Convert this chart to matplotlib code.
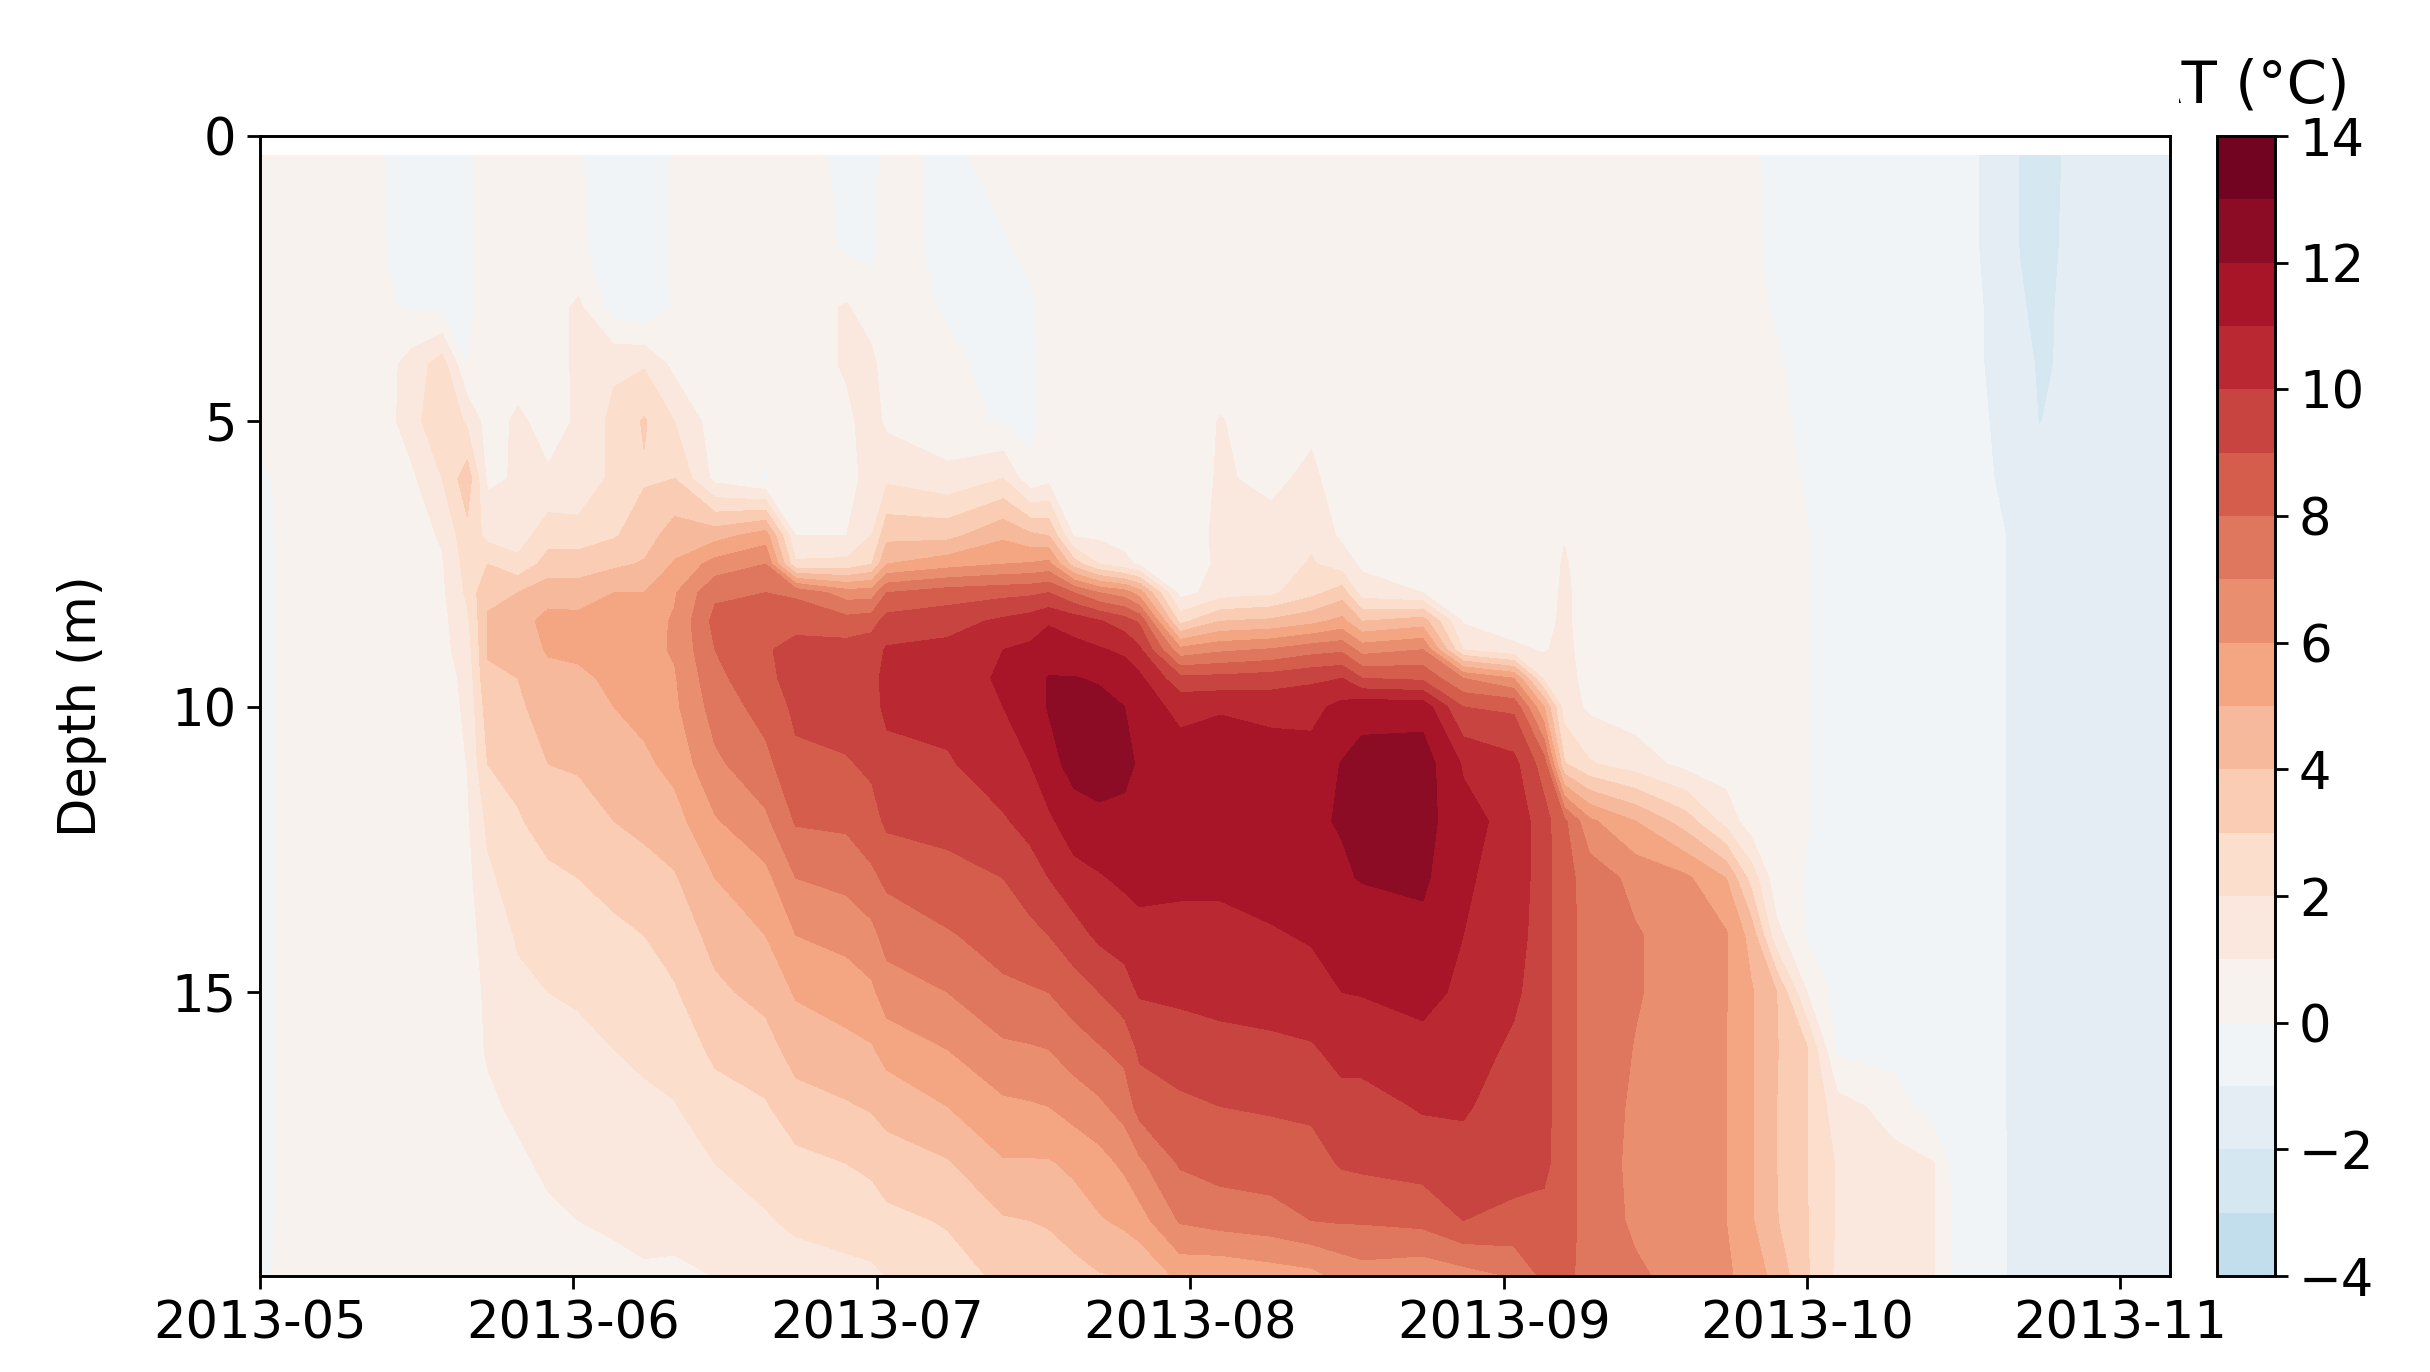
import numpy as np
import matplotlib
matplotlib.use("Agg")
import matplotlib.pyplot as plt
import matplotlib.dates as mdates
from matplotlib.transforms import Bbox

START = "2013-05-01"
FIG_W, FIG_H = 2430, 1372
DPI = 200

depths = [0.35, 2, 3, 4, 5, 6, 7, 7.5, 8, 8.5, 9, 9.5, 10, 11, 12, 13, 14, 15, 16, 17, 18, 19, 20]

# days since START, one temperature profile per entry (same order as depths)
days = [0, 4, 12, 15, 18, 20.5, 22.5, 25.5, 28.5, 31.5, 35, 38, 41, 45, 50, 53, 58, 60.5, 62, 68, 73.5, 76.2, 78, 80.5, 83,
        85.5, 87, 91, 95, 100, 104, 107, 109, 115, 119, 124, 127, 129, 131.5, 136, 141, 145, 147.5, 150, 153, 156,
        161.5, 165.5, 167.5, 170, 173, 174, 176, 178.3, 181, 188.9]

temp_profiles = [
    [.5, .5, .5, .5, .3, -.2, -.3, -.3, -.3, -.3, -.3, -.3, -.3, -.3, -.3, -.3, -.3, -.3, -.3, -.3, -.3, -.3, -.2],
    [.5, .5, .5, .5, .5, .5, .5, .5, .5, .5, .5, .5, .5, .5, .5, .5, .5, .5, .5, .5, .5, .5, .5],
    [.05, .05, .1, .5, .5, .5, .5, .5, .5, .5, .5, .5, .5, .5, .5, .5, .5, .5, .5, .5, .5, .5, .5],
    [-.4, -.3, -.1, 1.4, 1.5, .8, .6, .6, .5, .5, .5, .5, .5, .5, .5, .5, .5, .5, .5, .5, .5, .5, .5],
    [-.4, -.4, -.3, 2.5, 3, 2, 1.1, .9, .8, .7, .7, .6, .6, .5, .5, .5, .5, .5, .5, .5, .5, .5, .5],
    [-.3, -.3, -.3, 0, 1.8, 3.6, 2.7, 2.4, 2.2, 1.8, 1.5, 1.25, 1.15, 1.02, .85, .7, .6, .5, .5, .5, .5, .5, .5],
    [.5, .5, .5, .5, .6, .8, 1.7, 3, 3.9, 4.05, 4.05, 3.9, 3.5, 3, 2.2, 1.8, 1.4, 1.2, 1.1, .8, .6, .5, .5],
    [.5, .5, .5, .6, 1.15, 1.1, 1.5, 2.3, 4, 4.6, 4.4, 4, 3.8, 3.3, 2.9, 2.5, 2.1, 1.8, 1.5, 1.2, .8, .6, .5],
    [.5, .5, .5, .5, .7, 1.1, 2.6, 3.4, 4.6, 5.3, 5.1, 4.7, 4.5, 4, 3.4, 2.8, 2.4, 2, 1.7, 1.5, 1.2, .8, .6],
    [.05, .1, 1.2, 1.2, 1.1, 1.1, 2.5, 3.5, 4.5, 5.3, 5.2, 4.8, 4.6, 4.1, 3.6, 3, 2.6, 2.1, 1.8, 1.5, 1.3, 1, .7],
    [-.3, -.3, -.5, 1.8, 2.3, 2.3, 2.9, 3.8, 5, 5.5, 5.5, 5.2, 5, 4.5, 4, 3.3, 2.8, 2.4, 2, 1.7, 1.4, 1.1, .8],
    [-.3, -.3, -.8, 1.9, 3.1, 2.9, 3.5, 4.1, 5, 5.6, 5.7, 5.6, 5.3, 4.8, 4.2, 3.7, 3, 2.6, 2.2, 1.8, 1.5, 1.2, .9],
    [.05, .05, .1, .7, 2, 3, 4.5, 5.1, 5.9, 6.1, 6.1, 5.9, 5.8, 5.3, 4.6, 3.9, 3.4, 2.9, 2.4, 1.95, 1.6, 1.3, .8],
    [.4, .4, .4, .4, .5, .7, 4.6, 6.4, 7.8, 8.3, 8, 7.7, 7.4, 6.8, 5.9, 5, 4.3, 3.8, 3.2, 2.6, 2, 1.5, 1],
    [.5, .5, .5, .5, .3, -.1, 5.5, 7, 8, 8.8, 8.9, 8.8, 8.4, 7.7, 6.8, 5.7, 5, 4.3, 3.6, 2.9, 2.4, 1.9, 1.2],
    [.5, .5, .5, .5, .5, .5, 1, 2.2, 7.8, 8.7, 9.3, 9.3, 9.2, 8.8, 8.1, 7, 6, 5.1, 4.4, 3.6, 2.7, 2.2, 1.5],
    [-.3, -.1, 1.1, 1.1, .8, .6, 1, 2.3, 6.5, 8.4, 9.4, 9.6, 9.5, 8.9, 8.2, 7.3, 6.3, 5.5, 4.7, 3.9, 3, 2.4, 1.7],
    [-.3, -.2, .4, 1.3, 1.4, 1.4, 2, 3, 6.5, 8.6, 9.6, 9.8, 9.7, 9.2, 8.6, 7.8, 6.7, 5.8, 4.9, 4.1, 3.2, 2.5, 1.8],
    [.3, .3, .4, .3, .8, 1.8, 3.7, 5, 8, 9.4, 10.1, 10.2, 10.2, 9.7, 9.2, 8.2, 7.4, 6.5, 5.4, 4.3, 3.6, 2.7, 2],
    [-.2, -.2, -.1, .2, .3, 1.3, 3.7, 5.6, 8.5, 9.6, 10.3, 10.3, 10.3, 9.9, 9.3, 8.7, 7.9, 7, 6, 5, 3.9, 3.1, 2.5],
    [.3, -.1, -.3, -.3, -.1, 2, 4.8, 6, 8.7, 10.2, 11, 11.2, 11, 10.5, 9.9, 9, 8.4, 7.8, 6.8, 5.8, 4.9, 3.9, 3.2],
    [.4, .2, -.2, -.3, -.3, .3, 4.2, 6.1, 8.8, 10.5, 11.2, 11.6, 11.6, 11, 10.3, 9.6, 8.7, 7.9, 6.9, 5.9, 4.9, 4, 3.3],
    [.5, .4, .4, .5, .5, .7, 4, 6.3, 9, 10.9, 11.5, 12.05, 12.05, 11.7, 10.8, 10, 9, 8, 7, 6, 4.9, 4.1, 3.4],
    [.5, .5, .5, .5, .5, .5, .9, 3.5, 8, 10.6, 11.3, 12.05, 12.5, 12.3, 11.6, 10.6, 9.6, 8.5, 7.5, 6.4, 5.2, 4.5, 3.6],
    [.5, .5, .5, .5, .5, .5, .8, 2, 7, 10.1, 11.1, 11.9, 12.3, 12.4, 11.8, 10.9, 10.2, 9, 7.9, 6.8, 5.6, 4.9, 3.9],
    [.5, .5, .5, .5, .5, .5, .6, 1.3, 6.5, 9.5, 10.8, 11.6, 12, 12.2, 11.8, 11.2, 10.4, 9.6, 8.3, 7.4, 6.2, 5.2, 4],
    [.5, .5, .5, .5, .5, .5, .5, .8, 5.5, 8.8, 10.2, 11.2, 11.5, 11.9, 11.7, 11.3, 10.7, 10.1, 9.2, 8.4, 6.8, 5.6, 4],
    [.5, .5, .5, .5, .5, .5, .5, .5, .6, 2.7, 6.3, 9.3, 10.7, 11.5, 11.7, 11.2, 10.7, 10.2, 9.5, 8.8, 8.1, 7.1, 5.2],
    [.5, .5, .5, .6, 1.05, 1.1, 1.2, 1.15, 1.5, 4, 6.8, 9.3, 10.9, 11.6, 11.8, 11.2, 10.7, 10.3, 9.7, 9, 8.4, 7.4, 5.1],
    [.5, .5, .5, .5, .5, .8, 1.3, 1.5, 1.8, 4.2, 7.1, 9.5, 10.7, 11.5, 11.8, 11.4, 10.9, 10.4, 9.8, 9.1, 8.5, 7.6, 5.4],
    [.5, .5, .5, .5, .8, 1.2, 1.8, 2.1, 2.7, 4.7, 7.6, 9.8, 10.7, 11.4, 11.9, 11.5, 11.1, 10.6, 9.9, 9.2, 8.6, 8, 5.6],
    [.5, .5, .5, .5, .5, .5, .8, 1.5, 3.5, 5.3, 7.8, 10, 11.3, 12.05, 12.05, 11.9, 11.4, 11, 10.3, 9.7, 9.1, 8.1, 6.2],
    [.5, .5, .5, .5, .5, .5, .6, .8, 1.5, 4, 6.6, 9, 11.7, 12.3, 12.5, 12.05, 11.5, 11.05, 10.4, 9.6, 9.2, 8.1, 6.5],
    [.5, .5, .5, .5, .5, .5, .5, .7, 1, 4.5, 7, 8.8, 11.6, 12.5, 12.4, 12.2, 11.7, 11.3, 10.7, 10.1, 9.4, 8.3, 6.2],
    [.5, .5, .5, .5, .5, .5, .5, .5, .5, .9, 2, 7, 9, 10.9, 11.3, 11.1, 11, 10.8, 10.5, 10.1, 9.7, 9, 6.5],
    [.5, .5, .5, .5, .5, .5, .5, .5, .5, .5, 1.2, 6, 8.8, 10.3, 10.7, 10.7, 10.5, 10.2, 9.8, 9.6, 9.3, 8.8, 7],
    [.5, .5, .5, .5, .5, .5, .5, .5, .5, .7, .9, 1.8, 5, 8.5, 9.4, 9.4, 9.4, 9.4, 9.4, 9.4, 9.3, 8.6, 8.2],
    [.5, .5, .5, .5, .5, .5, .95, 1.1, 1.2, 1.2, 1.3, 1.4, 1.5, 3.1, 8.2, 8.3, 8.3, 8.3, 8.3, 8.3, 8.3, 8.3, 8.2],
    [.5, .5, .5, .5, .5, .5, .5, .5, .5, .5, .5, .6, .8, 2.1, 6.2, 7.6, 7.7, 7.7, 7.7, 7.7, 7.7, 7.7, 7.7],
    [.5, .5, .5, .5, .5, .5, .5, .5, .5, .5, .5, .5, .5, 1.5, 5, 6.7, 7.1, 7.1, 6.95, 6.8, 6.7, 6.8, 7.2],
    [.5, .5, .5, .5, .5, .5, .5, .5, .5, .5, .5, .5, .5, .7, 3.5, 6.2, 6.5, 6.5, 6.4, 6.4, 6.4, 6.4, 6.6],
    [.4, .4, .4, .4, .4, .4, .4, .4, .4, .4, .4, .4, .4, .5, 1.6, 5, 6.1, 6.05, 6, 6, 6, 6, 6.2],
    [.2, .2, .2, .2, .3, .3, .3, .3, .3, .3, .3, .3, .3, .3, .4, 2.6, 4.6, 5.1, 5.1, 5.1, 5.1, 5.1, 5.5],
    [-.4, -.3, -.1, .1, .3, .4, .4, .4, .4, .4, .4, .4, .4, .4, .4, .3, 1.3, 4, 4.05, 4, 4, 4.05, 4.7],
    [-.5, -.5, -.5, -.4, -.3, -.1, .05, .05, .05, .05, .05, .05, .05, .05, .05, -.05, -.05, 1, 3.1, 3.05, 3, 3.05, 3.1],
    [-.7, -.7, -.7, -.7, -.7, -.7, -.7, -.7, -.7, -.7, -.7, -.7, -.7, -.6, -.5, -.4, -.4, -.4, -.2, 1.4, 1.9, 1.9, 1.8],
    [-.7, -.7, -.7, -.7, -.7, -.7, -.7, -.7, -.7, -.7, -.7, -.7, -.7, -.7, -.7, -.6, -.6, -.5, -.4, .6, 1.3, 1.3, 1.3],
    [-.8, -.8, -.8, -.8, -.8, -.8, -.8, -.8, -.8, -.8, -.8, -.8, -.8, -.8, -.7, -.7, -.7, -.6, -.6, -.5, 1.05, 1.05, 1.05],
    [-.85, -.85, -.85, -.85, -.85, -.85, -.85, -.85, -.85, -.85, -.85, -.85, -.85, -.8, -.8, -.8, -.8, -.7, -.7, -.6, -.3, -.1, -.1],
    [-1, -1, -.95, -.95, -.9, -.9, -.85, -.85, -.85, -.85, -.85, -.85, -.85, -.85, -.85, -.85, -.85, -.85, -.85, -.85, -.8, -.8, -.8],
    [-1.5, -1.4, -1.3, -1.25, -1.2, -1.1, -1.02, -1.02, -1.02, -1.02, -1.02, -1.02, -1.02, -1.02, -1.02, -1.02, -1.02, -1.02, -1.02, -1.02, -1.02, -1.02, -1.02],
    [-2.05, -2.02, -1.85, -1.55, -1.35, -1.2, -1.1, -1.1, -1.1, -1.1, -1.1, -1.1, -1.1, -1.1, -1.1, -1.1, -1.1, -1.1, -1.1, -1.1, -1.1, -1.1, -1.1],
    [-2.4, -2.4, -2.3, -2.15, -2.05, -1.5, -1.3, -1.3, -1.3, -1.3, -1.3, -1.3, -1.3, -1.3, -1.3, -1.3, -1.3, -1.3, -1.3, -1.3, -1.3, -1.3, -1.3],
    [-1.98, -1.92, -1.85, -1.9, -1.6, -1.5, -1.4, -1.4, -1.4, -1.4, -1.4, -1.4, -1.4, -1.4, -1.4, -1.4, -1.4, -1.4, -1.4, -1.4, -1.4, -1.4, -1.4],
    [-1.6, -1.6, -1.6, -1.6, -1.5, -1.5, -1.5, -1.5, -1.5, -1.5, -1.5, -1.5, -1.5, -1.5, -1.5, -1.5, -1.5, -1.5, -1.5, -1.5, -1.5, -1.5, -1.5],
    [-1.5, -1.5, -1.5, -1.5, -1.5, -1.5, -1.5, -1.5, -1.5, -1.5, -1.5, -1.5, -1.5, -1.5, -1.5, -1.5, -1.5, -1.5, -1.5, -1.5, -1.5, -1.5, -1.5],
]

levels = np.arange(-4, 15, 1)
cbar_ticks = [-4, -2, 0, 2, 4, 6, 8, 10, 12, 14]
y_ticks = [0, 5, 10, 15]


def box(left, top, right, bottom):
    # pixel box of the reference -> figure fractions
    return [left / FIG_W, 1 - bottom / FIG_H, (right - left) / FIG_W, (bottom - top) / FIG_H]


plt.rcParams["font.family"] = "DejaVu Sans"
plt.rcParams["font.size"] = 18.4
plt.rcParams["axes.linewidth"] = 1.05

fig = plt.figure(figsize=(FIG_W / DPI, FIG_H / DPI), dpi=DPI)
ax = fig.add_axes(box(260, 136, 2170, 1276))
cax = fig.add_axes(box(2217, 136, 2275, 1276))

t0 = mdates.date2num(np.datetime64(START))
x = t0 + np.array(days)
T = np.array(temp_profiles).T

cf = ax.contourf(x, depths, T, levels=levels, cmap="RdBu_r", vmin=-14, vmax=14)

ax.set_xlim(t0, t0 + days[-1])
ax.set_ylim(19.97, 0)
ax.set_yticks(y_ticks)
ax.xaxis.set_major_locator(mdates.MonthLocator())
ax.xaxis.set_major_formatter(mdates.DateFormatter("%Y-%m"))
ax.tick_params(length=4.6, width=1.0, pad=4)
ax.set_ylabel("Depth (m)", fontsize=18.4)
ax.yaxis.set_label_coords(-0.08, 0.5)

cb = fig.colorbar(cf, cax=cax, ticks=cbar_ticks)
cb.ax.tick_params(length=4.6, width=1.0, pad=4)
cb.outline.set_linewidth(1.05)

# the delta of the label is cut off in the original, only its corner shows
label = fig.text(2349.6 / FIG_W, 1 - 102 / FIG_H, "ΔT (°C)", fontsize=20.8, ha="right", va="baseline")
label.set_clip_box(Bbox.from_extents(2179, FIG_H - 130, 2400, FIG_H - 30))
label.set_clip_on(True)

fig.savefig("out.png", dpi=DPI)
